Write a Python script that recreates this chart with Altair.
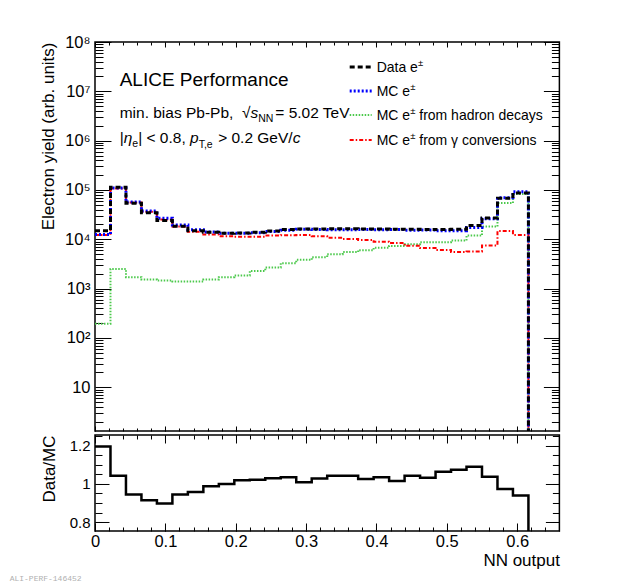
import altair as alt
import pandas as pd

# ---------------- data ----------------
bin_edges = [0.000, 0.022, 0.044, 0.066, 0.088, 0.110, 0.132, 0.154, 0.176, 0.198,
             0.220, 0.242, 0.264, 0.286, 0.308, 0.330, 0.352, 0.374, 0.396, 0.418,
             0.440, 0.462, 0.484, 0.506, 0.528, 0.550, 0.572, 0.594, 0.616, 0.638, 0.660]

data_e = [15000, 114000, 54000, 34400, 24000, 18500, 15000, 13900, 13300, 13500,
          13900, 14800, 15800, 16200, 16200, 16300, 16300, 16200, 16200, 16000,
          16000, 15900, 15800, 16000, 19000, 27000, 68000, 87000, 0, 0]

mc_e = [12500, 109300, 57200, 37600, 26800, 19600, 15700, 14100, 13300, 13250,
        13600, 14400, 15300, 16050, 15750, 15600, 15600, 15800, 15650, 15750,
        15350, 15400, 14850, 14900, 17400, 26000, 69800, 92600, 0, 0]

mc_hadron = [194, 2500, 1710, 1530, 1460, 1390, 1390, 1530, 1710, 1840,
             2290, 2680, 3290, 3840, 4350, 5000, 5500, 6030, 6710, 7330,
             7940, 8710, 8710, 9440, 11900, 18200, 54700, 83200, 0, 0]

mc_conv = [12300, 106800, 55500, 36000, 25300, 18200, 14300, 12500, 11600, 11300,
           11300, 11900, 12100, 12200, 11500, 10700, 10150, 9700, 8950, 8450,
           7420, 6650, 6050, 5550, 5650, 7500, 14700, 12300, 0, 0]

ratio = [1.197, 1.043, 0.944, 0.915, 0.897, 0.944, 0.958, 0.988, 1.000, 1.019,
         1.022, 1.030, 1.035, 1.009, 1.028, 1.043, 1.043, 1.026, 1.035, 1.016,
         1.043, 1.033, 1.064, 1.075, 1.090, 1.038, 0.974, 0.939, 0, 0]

x_major = [0, 0.1, 0.2, 0.3, 0.4, 0.5, 0.6]
y_major = [10, 100, 1000, 10000, 100000, 1000000, 10000000, 100000000]
r_major = [0.8, 1.0, 1.2]

legend_labels = ["Data e", "MC e", "MC e", "MC e"]
legend_tails = ["", "", " from hadron decays", " from \u03b3 conversions"]

# ---------------- styling ----------------
FONT = "Liberation Sans"
W, H1, H2 = 464.4, 389, 96
X_DOM = [0.0, 0.66]
Y_DOM = [1.3, 1e8]
R_DOM = [0.753, 1.257]

x_minor = [round(0.02 * i, 2) for i in range(34)]
y_minor = [m * 10 ** k for k in range(0, 8) for m in range(2, 10) if m * 10 ** k >= Y_DOM[0]]
r_minor = [round(0.75 + 0.05 * i, 2) for i in range(11)]

xscale = alt.Scale(domain=X_DOM, nice=False, zero=False)
yscale = alt.Scale(type="log", domain=Y_DOM, nice=False)
rscale = alt.Scale(domain=R_DOM, nice=False, zero=False)

SUP = "['','','\u00b2','\u00b3','\u2074','\u2075','\u2076','\u2077','\u2078','\u2079']"


def tick_axis(orient, values, size, **kw):
    base = dict(orient=orient, values=values, tickSize=size, offset=-size,
                domain=False, grid=False, labels=False, title=None,
                tickColor="black", tickWidth=1)
    base.update(kw)
    return alt.Axis(**base)


def step_df(vals, floor):
    ys = [v if v > 0 else floor for v in vals]
    ys = ys + [ys[-1]]
    return pd.DataFrame({"x": bin_edges, "y": ys})


one = pd.DataFrame({"a": [0]})

# Arial / Liberation Sans advance widths (per 1000 em)
AW = {' ': 278, ',': 278, '-': 333, '.': 278, '/': 278, '<': 584, '=': 584, '>': 584,
      'A': 667, 'C': 722, 'D': 722, 'E': 667, 'G': 778, 'I': 278, 'L': 556, 'M': 833,
      'N': 722, 'P': 667, 'T': 611, 'V': 667, 'a': 556, 'b': 556, 'c': 500, 'd': 556,
      'e': 556, 'f': 278, 'h': 556, 'i': 222, 'l': 222, 'm': 833, 'n': 556, 'o': 556,
      'p': 556, 'r': 333, 's': 500, 't': 278, 'u': 556, 'v': 500, 'y': 500, '|': 260,
      '\u00b1': 549, '\u221a': 549, '\u03b7': 556, '\u03b3': 500}
for d in "0123456789":
    AW[d] = 556


def tw(s, size):
    return sum(AW.get(ch, 556) for ch in s) * size / 1000.0


def rich(segs, x0, y0):
    out = []
    x = x0
    for seg in segs:
        text, size, italic, dy = seg[:4]
        adv = seg[4] if len(seg) > 4 else tw(text, size)
        lead = len(text) - len(text.lstrip(" "))
        shown = text.strip(" ")
        out.append(
            alt.Chart(one).mark_text(
                text=shown, align="left", baseline="alphabetic", font=FONT,
                fontSize=size, fontStyle="italic" if italic else "normal",
                dy=dy, color="black"
            ).encode(x=alt.value(x + tw(" " * lead, size)), y=alt.value(y0))
        )
        x += adv
    return out


# ---------------- upper panel ----------------
def hist_line(vals, color, dash, width, xaxis, yaxis):
    return alt.Chart(step_df(vals, 0.01)).mark_line(
        interpolate="step-after", color=color, strokeDash=dash,
        strokeWidth=width, clip=True
    ).encode(
        x=alt.X("x:Q", scale=xscale, axis=xaxis),
        y=alt.Y("y:Q", scale=yscale, axis=yaxis),
    )


y_left_major = tick_axis(
    "left", y_major, 16, labels=True, labelFont=FONT, labelFontSize=16.5,
    labelPadding=5, labelColor="black", labelFlush=False, labelOverlap=False,
    labelExpr="datum.value < 11 ? '10' : '10' + " + SUP + "[round(log(datum.value)/LN10)]",
    title="Electron yield (arb. units)", titleFont=FONT, titleFontSize=17,
    titleFontWeight="normal", titleColor="black", titleAnchor="end", titlePadding=7,
)

GREEN = "#4cc94c"
l_green = hist_line(mc_hadron, GREEN, [1.5, 1.5], 2,
                    tick_axis("bottom", x_major, 5), y_left_major)
l_red = hist_line(mc_conv, "#ff0000", [4, 2, 1.5, 2], 2,
                  tick_axis("bottom", x_minor, 3), tick_axis("left", y_minor, 8))
l_blue = hist_line(mc_e, "#0000ff", [2, 2], 3,
                   tick_axis("top", x_major, 5), tick_axis("right", y_major, 16))
l_black = hist_line(data_e, "#000000", [5, 3], 3,
                    tick_axis("top", x_minor, 3), tick_axis("right", y_minor, 8))

annot = []
annot += rich([("ALICE Performance", 19, False, 0)], 24.7, 43.7)
annot += rich([("min. bias Pb-Pb,  ", 15.5, False, 0),
               ("\u221a", 15.5, False, 0),
               ("s", 15.5, True, 0),
               ("NN", 10.5, False, 4, 17),
               ("= 5.02 TeV", 15.5, False, 0)], 24.7, 75.5)
annot += rich([("|", 15.5, False, 0),
               ("\u03b7", 15.5, True, 0),
               ("e", 10.5, False, 4),
               ("| < 0.8, ", 15.5, False, 0),
               ("p", 15.5, True, 0),
               ("T,e", 10.5, False, 5),
               (" > 0.2 GeV/", 15.5, False, 0),
               ("c", 15.5, True, 0)], 24.7, 101.3)

leg_styles = [("#000000", [5, 3], 3), ("#0000ff", [2, 2], 3),
              (GREEN, [1.5, 1.5], 2), ("#ff0000", [4, 2, 1.5, 2], 2)]
leg_rows = [25, 49, 73, 98]
for (col, dash, wdt), yc, lab, tail in zip(leg_styles, leg_rows, legend_labels, legend_tails):
    annot.append(
        alt.Chart(one).mark_rule(color=col, strokeDash=dash, strokeWidth=wdt).encode(
            x=alt.value(254.7), x2=alt.value(276.7), y=alt.value(yc))
    )
    segs = [(lab, 14, False, 0), ("\u00b1", 9.5, False, -6)]
    if tail:
        segs.append((tail, 14, False, 0))
    annot += rich(segs, 281.7, yc + 5)

upper = alt.layer(l_green, l_red, l_blue, l_black, *annot).resolve_axis(
    x="independent", y="independent"
).properties(width=W, height=H1)

# ---------------- lower panel ----------------
rdf = step_df(ratio, 0.0)


def ratio_line(opacity, xaxis, yaxis):
    return alt.Chart(rdf).mark_line(
        interpolate="step-after", color="black", strokeWidth=2.5, clip=True,
        strokeOpacity=opacity
    ).encode(
        x=alt.X("x:Q", scale=xscale, axis=xaxis),
        y=alt.Y("y:Q", scale=rscale, axis=yaxis),
    )


x_bottom_major = tick_axis(
    "bottom", x_major, 8, labels=True, labelFont=FONT, labelFontSize=16.5,
    labelPadding=3, labelColor="black", labelFlush=False, labelOverlap=False,
    labelExpr="format(datum.value, '~g')",
    title="NN output", titleFont=FONT, titleFontSize=17, titleFontWeight="normal",
    titleColor="black", titleAnchor="end", titlePadding=2,
)
r_left_major = tick_axis(
    "left", r_major, 14, labels=True, labelFont=FONT, labelFontSize=15,
    labelPadding=5, labelColor="black", labelFlush=False, labelOverlap=False,
    labelExpr="format(datum.value, '~g')",
    title="Data/MC", titleFont=FONT, titleFontSize=17, titleFontWeight="normal",
    titleColor="black", titleAnchor="end", titlePadding=11,
)

r1 = ratio_line(1, x_bottom_major, r_left_major)
r2 = ratio_line(0, tick_axis("bottom", x_minor, 4), tick_axis("left", r_minor, 7))
r3 = ratio_line(0, tick_axis("top", x_major, 8), tick_axis("right", r_major, 14))
r4 = ratio_line(0, tick_axis("top", x_minor, 4), tick_axis("right", r_minor, 7))

ali = alt.Chart(one).mark_text(
    text="ALI-PERF-146452", align="left", baseline="middle", font="Liberation Mono",
    fontSize=8, color="#b0b0b0"
).encode(x=alt.value(-85.3), y=alt.value(144))

lower = alt.layer(r1, r2, r3, r4, ali).resolve_axis(
    x="independent", y="independent"
).properties(width=W, height=H2)

chart = alt.vconcat(upper, lower, spacing=0).properties(
    padding={"left": 0, "top": 25, "right": 5, "bottom": 0},
    background="white",
).configure_view(stroke="black", strokeWidth=1.5)

chart.save("out.html", embed_options={"renderer": "svg", "actions": False})
